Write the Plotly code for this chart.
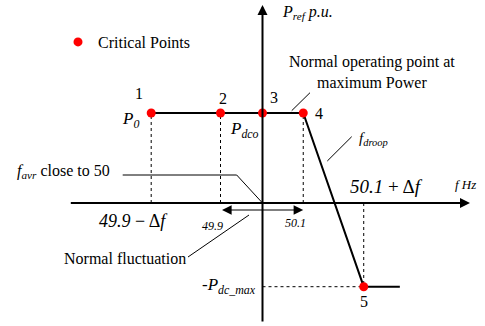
import plotly.graph_objects as go

# ---------------- data (schematic values) ----------------
point_labels = ["1", "2", "3", "4", "5"]
freq_hz = [49.735, 49.9, 50.0, 50.097, 50.241]      # f of critical points
p_ref_pu = [1.0, 1.0, 1.0, 1.0, -0.93]              # P_ref of critical points
f_nominal = 50.0
f_band = [49.9, 50.1]                                # normal fluctuation band
f_sat_end = 50.327                                   # end of saturation segment
f_axis = [49.54, 50.494]                             # extent of frequency axis
p_axis = [-1.333, 2.2]                               # extent of power axis

# ---------------- geometry of the canvas ----------------
W, H = 485, 326
x_range = [f_nominal - 262.5 / 420, f_nominal + (W - 262.5) / 420]
y_range = [-(H - 203) / 90, 203 / 90]

FONT = '"Liberation Serif", "Times New Roman", Times, serif'


def pp(x, y):
    return dict(x=x / W, y=1 - y / H, xref="paper", yref="paper")


fig = go.Figure()

# droop characteristic
curve_x = [freq_hz[0], freq_hz[3], freq_hz[4], f_sat_end]
curve_y = [p_ref_pu[0], p_ref_pu[3], p_ref_pu[4], p_ref_pu[4]]
fig.add_trace(go.Scatter(x=curve_x, y=curve_y, mode="lines",
                         line=dict(color="black", width=2),
                         showlegend=False, hoverinfo="skip"))

# dotted guides
for i in [0, 1, 3]:
    fig.add_trace(go.Scatter(x=[freq_hz[i], freq_hz[i]], y=[0, p_ref_pu[i]],
                             mode="lines", line=dict(color="black", width=1, dash="dot"),
                             showlegend=False, hoverinfo="skip"))
fig.add_trace(go.Scatter(x=[freq_hz[4], freq_hz[4]], y=[0, p_ref_pu[4]],
                         mode="lines", line=dict(color="black", width=1, dash="dot"),
                         showlegend=False, hoverinfo="skip"))
fig.add_trace(go.Scatter(x=[f_nominal, freq_hz[4]], y=[p_ref_pu[4], p_ref_pu[4]],
                         mode="lines", line=dict(color="black", width=1, dash="dot"),
                         showlegend=False, hoverinfo="skip"))

# critical points
fig.add_trace(go.Scatter(x=freq_hz, y=p_ref_pu, mode="markers",
                         marker=dict(color="#ff0000", size=9),
                         name="Critical Points", showlegend=True, hoverinfo="skip"))

annotations = []
# axes as arrows
annotations.append(dict(x=f_axis[1], y=0, ax=f_axis[0], ay=0, xref="x", yref="y",
                        axref="x", ayref="y", text="", showarrow=True,
                        arrowhead=2, arrowsize=1, arrowwidth=2, arrowcolor="black", standoff=0))
annotations.append(dict(x=f_nominal, y=p_axis[1], ax=f_nominal, ay=p_axis[0], xref="x", yref="y",
                        axref="x", ayref="y", text="", showarrow=True,
                        arrowhead=2, arrowsize=1, arrowwidth=2, arrowcolor="black", standoff=0))
# normal fluctuation double arrow
annotations.append(dict(x=freq_hz[3], y=-0.078, ax=freq_hz[1], ay=-0.078, xref="x", yref="y",
                        axref="x", ayref="y", text="", showarrow=True, arrowside="end+start",
                        arrowhead=2, arrowsize=1.6, arrowwidth=1.2, arrowcolor="black", standoff=0))

# point numbers
shifts = [(-12, 20), (2, 15), (11, 16), (16, 0), (0, -15)]
for lab, fx, py, (dx, dy) in zip(point_labels, freq_hz, p_ref_pu, shifts):
    annotations.append(dict(x=fx, y=py, xref="x", yref="y", text=lab, showarrow=False,
                            xshift=dx, yshift=dy, font=dict(family=FONT, size=16, color="black")))

def txt(x, y, text, size=16, xanchor="center", yanchor="middle"):
    d = pp(x, y)
    d.update(text=text, showarrow=False, xanchor=xanchor, yanchor=yanchor,
             font=dict(family=FONT, size=size, color="black"))
    annotations.append(d)

txt(141, 120, "<i>P<sub>0</sub></i>", 17, xanchor="right")
txt(228, 130, "<i>P<sub>dco</sub></i>", 17, xanchor="left")
txt(280, 12, "<i>P<sub>ref</sub> p.u.</i>", 16, xanchor="left")
txt(372, 72, "Normal operating point at<br>maximum Power", 16)
txt(357, 139, "<i>f<sub>droop</sub></i>", 15, xanchor="left")
txt(15, 171, "<i>f<sub>avr</sub></i> close to 50", 16, xanchor="left")
txt(133, 221, "<i>49.9</i> − Δ<i>f</i>", 18)
txt(212, 226, "<i>49.9</i>", 12)
txt(295, 223, "<i>50.1</i>", 12)
txt(386, 186, "<i>50.1</i> + Δ<i>f</i>", 19)
txt(465, 184, "<i>f Hz</i>", 13)
txt(125, 258, "Normal fluctuation", 16)
txt(258, 286, "<i>-P<sub>dc_max</sub></i>", 17, xanchor="right")

# leader lines
shapes = []
def seg(x0, y0, x1, y1):
    shapes.append(dict(type="line", xref="paper", yref="paper",
                       x0=x0 / W, y0=1 - y0 / H, x1=x1 / W, y1=1 - y1 / H,
                       line=dict(color="black", width=1)))

seg(291.7, 110.7, 310, 92.7)
seg(327.3, 161, 351.7, 136.7)
seg(122.7, 175, 236.7, 175)
seg(236.7, 175, 262.5, 203)
seg(188, 257, 249, 215)

fig.update_layout(
    width=W, height=H, margin=dict(l=0, r=0, t=0, b=0),
    paper_bgcolor="white", plot_bgcolor="white",
    font=dict(family=FONT, color="black"),
    xaxis=dict(visible=False, range=x_range, fixedrange=True),
    yaxis=dict(visible=False, range=y_range, fixedrange=True),
    showlegend=True,
    legend=dict(x=58 / W, y=1 - 25 / H, xanchor="left", yanchor="top",
                font=dict(family=FONT, size=16, color="black"),
                bgcolor="rgba(0,0,0,0)", borderwidth=0),
    annotations=annotations, shapes=shapes,
)

fig.write_html("out.html", config={"displayModeBar": False, "staticPlot": True},
               post_script="document.body.style.margin='0';document.body.style.overflow='hidden';")
